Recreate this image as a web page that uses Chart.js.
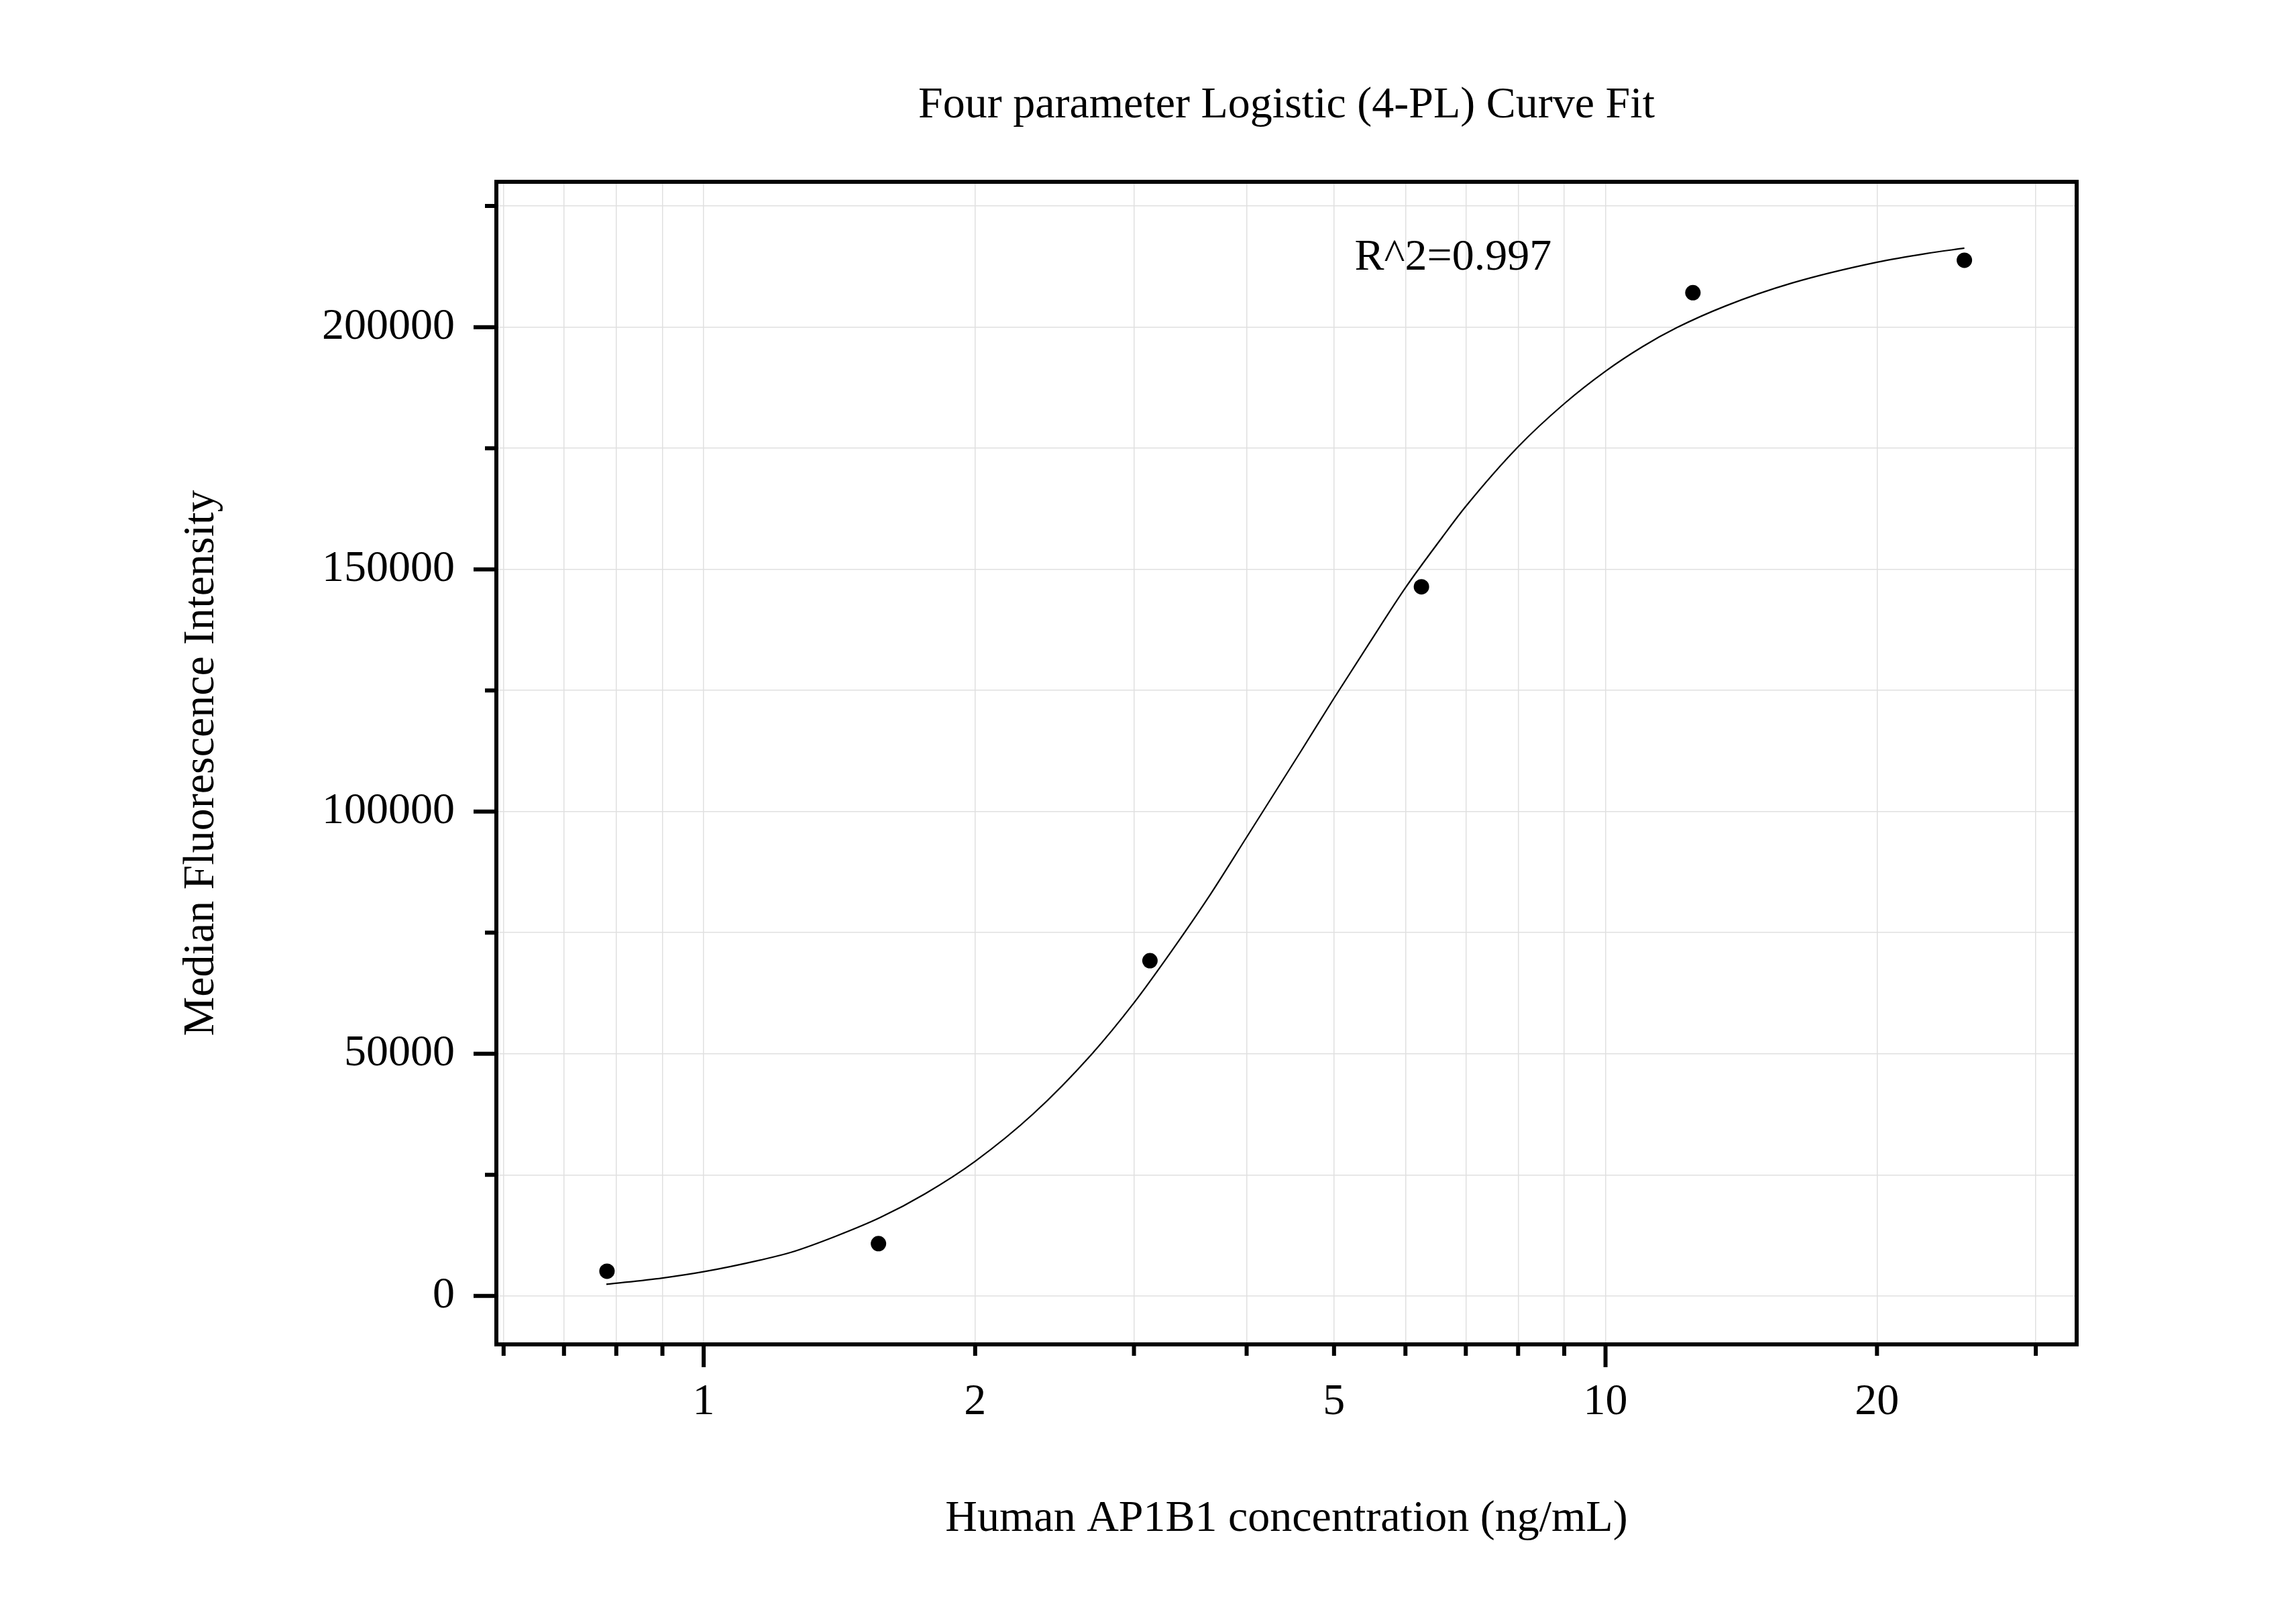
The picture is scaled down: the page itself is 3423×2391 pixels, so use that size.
<!DOCTYPE html>
<html>
<head>
<meta charset="utf-8">
<style>
  html, body { margin: 0; padding: 0; background: #fff; }
  canvas { display: block; }
</style>
<script src="https://cdn.jsdelivr.net/npm/chart.js@4.4.1/dist/chart.umd.min.js"></script>
</head>
<body>
<canvas id="c" width="3423" height="2391"></canvas>
<script>
'use strict';

// measured points (two-fold dilution series)
const ptX = [0.78125, 1.5625, 3.125, 6.25, 12.5, 25];
const ptY = [5100, 10800, 69200, 146400, 207100, 213800];

// fitted 4-PL curve
const curveX = [0.78, 0.9, 1.0, 1.155, 1.25, 1.4, 1.57, 1.76, 2.0, 2.32, 2.69, 3.0, 3.3, 3.62,
  4.0, 4.6, 5.0, 5.46, 6.0, 6.59, 7.0, 8.0, 9.0, 10.0, 11.0, 12.0, 13.6, 16.1, 20.0, 22.7, 25.0];
const curveY = [2400, 3700, 5000, 7400, 9000, 12300, 16200, 21100, 27800, 37600, 49800, 60500, 71100, 82000,
  94700, 112600, 123400, 134500, 146200, 156600, 163000, 175300, 184200, 190900, 196000, 199900, 204400, 209100, 213400, 215200, 216300];

const xTicks = [0.6, 0.7, 0.8, 0.9, 1, 2, 3, 4, 5, 6, 7, 8, 9, 10, 20, 30];
const xLabels = [1, 2, 5, 10, 20];
const xMajor = [1, 10];
const yTicks = [0, 25000, 50000, 75000, 100000, 125000, 150000, 175000, 200000, 225000];

const FONT = '"Liberation Serif", "Times New Roman", serif';
const FS = 66;
const GRID = '#e0e0e0';

Chart.defaults.font.family = FONT;
Chart.defaults.font.size = FS;
Chart.defaults.color = '#000';

const frame = {
  id: 'frame',
  afterDraw(chart) {
    const { ctx, chartArea: a, scales: { x, y } } = chart;
    ctx.save();
    ctx.strokeStyle = '#000';
    ctx.lineWidth = 6;
    ctx.lineCap = 'butt';
    ctx.beginPath();
    xTicks.forEach((v) => {
      const p = x.getPixelForValue(v);
      const len = xMajor.includes(v) ? 34 : 17;
      ctx.moveTo(p, a.bottom);
      ctx.lineTo(p, a.bottom + len);
    });
    yTicks.forEach((v) => {
      const p = y.getPixelForValue(v);
      const len = v % 50000 === 0 ? 34 : 17;
      ctx.moveTo(a.left, p);
      ctx.lineTo(a.left - len, p);
    });
    ctx.stroke();
    ctx.lineJoin = 'miter';
    ctx.strokeRect(a.left, a.top, a.right - a.left, a.bottom - a.top);
    // fit quality note
    ctx.fillStyle = '#000';
    ctx.font = FS + 'px ' + FONT;
    ctx.textAlign = 'left';
    ctx.textBaseline = 'alphabetic';
    ctx.fillText('R^2=0.997', x.getPixelForValue(5.27), y.getPixelForValue(211900));
    ctx.restore();
  },
};

new Chart(document.getElementById('c'), {
  type: 'scatter',
  data: {
    datasets: [
      {
        label: 'fit',
        data: curveX.map((v, i) => ({ x: v, y: curveY[i] })),
        showLine: true,
        borderColor: '#000',
        borderWidth: 2.2,
        pointRadius: 0,
        cubicInterpolationMode: 'monotone',
        order: 2,
      },
      {
        label: 'MFI',
        data: ptX.map((v, i) => ({ x: v, y: ptY[i] })),
        backgroundColor: '#000',
        borderWidth: 0,
        pointRadius: 11.5,
        order: 1,
      },
    ],
  },
  options: {
    responsive: false,
    animation: false,
    layout: { padding: { left: 0, right: 327, top: 0, bottom: 0 } },
    plugins: {
      legend: { display: false },
      tooltip: { enabled: false },
      title: {
        display: true,
        fullSize: false,
        text: 'Four parameter Logistic (4-PL) Curve Fit',
        color: '#000',
        font: { size: FS, weight: 'normal' },
        padding: { top: 118, bottom: 73.8 },
      },
    },
    scales: {
      x: {
        type: 'logarithmic',
        min: 0.589,
        max: 33.3,
        afterBuildTicks: (s) => { s.ticks = xTicks.map((v) => ({ value: v })); },
        afterFit: (s) => { s.height = 387; },
        ticks: {
          autoSkip: false,
          maxRotation: 0,
          padding: 47,
          color: '#000',
          callback: (v) => (xLabels.includes(v) ? String(v) : ''),
        },
        grid: { color: GRID, lineWidth: 1.5, drawTicks: false },
        border: { display: false },
        title: {
          display: true,
          text: 'Human AP1B1 concentration (ng/mL)',
          color: '#000',
          padding: { top: 0, bottom: 87 },
        },
      },
      y: {
        min: -10000,
        max: 230000,
        afterBuildTicks: (s) => { s.ticks = yTicks.map((v) => ({ value: v })); },
        afterFit: (s) => { s.width = 740; },
        ticks: {
          autoSkip: false,
          padding: 62,
          color: '#000',
          callback: (v) => (v % 50000 === 0 ? String(v) : ''),
        },
        grid: { color: GRID, lineWidth: 1.5, drawTicks: false },
        border: { display: false },
        title: {
          display: true,
          text: 'Median Fluorescence Intensity',
          color: '#000',
          padding: { top: 261, bottom: 0 },
        },
      },
    },
  },
  plugins: [frame],
});
</script>
</body>
</html>
